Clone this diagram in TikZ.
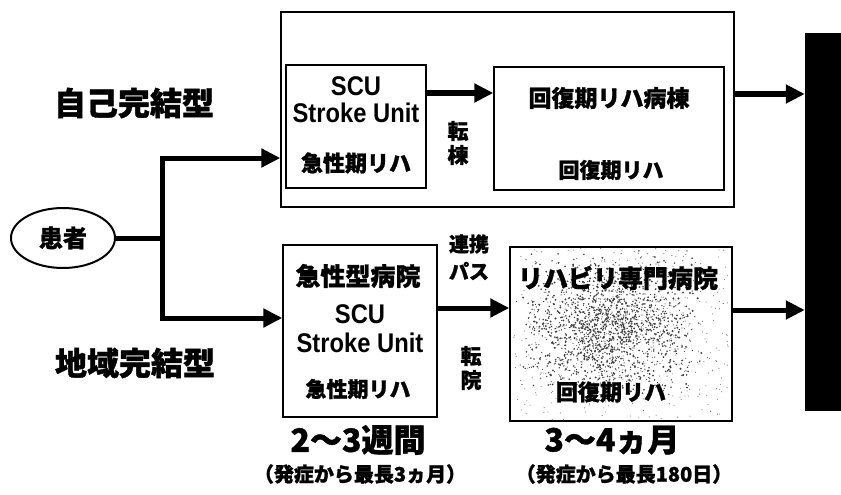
\documentclass[tikz,border=0pt]{standalone}
\usepackage{fontspec}
\usetikzlibrary{shapes.geometric,arrows.meta}
\newfontfamily\jp{Noto Sans CJK JP}[BoldFeatures={FakeBold=1.2}]
\newfontfamily\lat{Liberation Sans}[FakeStretch=0.88]
\tikzset{
  frame/.style={draw, line width=1.3pt, inner sep=0pt},
  jtxt/.style={font=\jp\bfseries\fontsize{#1}{#1}\selectfont, inner sep=0pt},
  ltxt/.style={font=\lat\bfseries\fontsize{#1}{#1}\selectfont, inner sep=0pt},
  conn/.style={line width=5pt, -{Triangle[length=19pt,width=18pt]}},
  thick line/.style={line width=5pt}
}
\begin{document}
\begin{tikzpicture}[x=1pt,y=-1pt]
\useasboundingbox (0,0) rectangle (841,495);
% boxes
\node[frame, minimum width=453pt, minimum height=195pt] (outer) at (507.5,109.5) {};
\node[frame, minimum width=140pt, minimum height=123pt] (scua) at (356,126.5) {};
\node[frame, minimum width=230pt, minimum height=123pt] (kai) at (609,128.5) {};
\node[fill=black, draw=black, minimum width=36pt, minimum height=377pt, inner sep=0pt] (bar) at (823,221.5) {};
\node[frame, minimum width=154pt, minimum height=172pt] (scub) at (360,331) {};
\node[frame, minimum width=222pt, minimum height=174pt] (reha) at (621,334) {};
% speckle texture in reha box
\begin{scope}
\clip (reha.south west) rectangle (reha.north east);
\pgfmathsetseed{11}
\foreach \i in {1,...,1800}{
  \pgfmathsetmacro{\px}{610+48*(rand+rand)}
  \pgfmathsetmacro{\py}{325+38*(rand+rand)}
  \pgfmathsetmacro{\pr}{0.5+0.6*rnd}
  \fill[black!75] (\px,\py) circle[radius=\pr];
}
\foreach \i in {1,...,400}{
  \pgfmathsetmacro{\px}{621+108*rand}
  \pgfmathsetmacro{\py}{334+86*rand}
  \fill[black!55] (\px,\py) circle[radius=0.55];
}
\end{scope}
% patient
\node[draw, ellipse, line width=2pt, minimum width=104pt, minimum height=60pt, inner sep=0pt] (pat) at (63,238) {};
\node[jtxt=24] (patt) at (63,238) {患者};
% side labels
\node[jtxt=32] (selfl) at (134,103) {自己完結型};
\node[jtxt=32] (regl) at (135,363) {地域完結型};
% texts top
\node[ltxt=27] (ta1) at (356,86) {SCU};
\node[ltxt=27] (ta2) at (356,113) {Stroke Unit};
\node[jtxt=22] (ta3) at (356,163) {急性期リハ};
\node[jtxt=23] (tk1) at (609,98) {回復期リハ病棟};
\node[jtxt=21] (tk2) at (611,170) {回復期リハ};
\node[jtxt=21] (tt1) at (458,131) {転};
\node[jtxt=21] (tt2) at (458,155) {棟};
% texts bottom
\node[jtxt=25] (tb0) at (358,276) {急性型病院};
\node[ltxt=27] (tb1) at (360,314) {SCU};
\node[ltxt=27] (tb2) at (360,343) {Stroke Unit};
\node[jtxt=21] (tb3) at (358,389) {急性期リハ};
\node[jtxt=25] (tr1) at (618,278) {リハビリ専門病院};
\node[jtxt=22] (tr2) at (611,392) {回復期リハ};
\node[jtxt=20] (tp1) at (469,244) {連携};
\node[jtxt=20] (tp2) at (469,271) {パス};
\node[jtxt=21] (tw1) at (471,356) {転};
\node[jtxt=21] (tw2) at (471,380) {院};
% durations
\node[jtxt=32] (d1) at (358,440) {2〜3週間};
\node[jtxt=20] (d2) at (360,474) {（発症から最長3ヵ月）};
\node[jtxt=32] (d3) at (612,440) {3〜4ヵ月};
\node[jtxt=20] (d4) at (624,474) {（発症から最長180日）};
% connectors
\coordinate (j) at (162,238);
\coordinate (jt) at (162,158);
\coordinate (jb) at (162,318);
\draw[thick line] (pat.east) -- (j);
\draw[conn] (jb) -- (jt) -- (outer.west |- jt);
\draw[conn] (jt) -- (jb) -- (scub.west |- jb);
\draw[conn] (scua.east |- 0,93) -- (kai.west |- 0,93);
\draw[conn] (outer.east |- 0,94) -- (bar.west |- 0,94);
\draw[conn] (scub.east |- 0,308) -- (reha.west |- 0,308);
\draw[conn] (reha.east |- 0,310) -- (bar.west |- 0,310);
\end{tikzpicture}
\end{document}
